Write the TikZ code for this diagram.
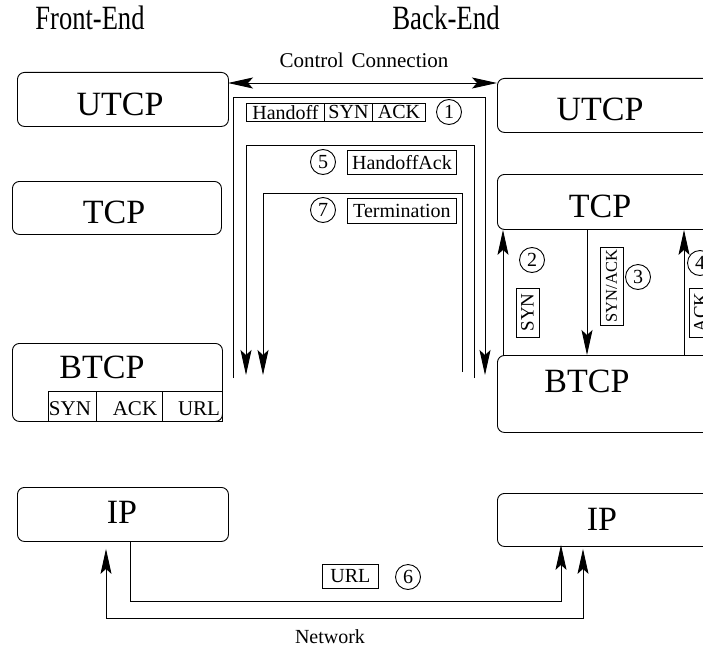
\documentclass[tikz,border=0pt]{standalone}
\usepackage{fontspec}
\setmainfont{Liberation Serif}
\usetikzlibrary{arrows.meta}
\begin{document}
\begin{tikzpicture}[x=1pt,y=-1pt,line width=0.9pt,
  layer/.style={draw, rounded corners=7pt, inner sep=0pt, anchor=north west},
  big/.style={font=\fontsize{34}{34}\selectfont, anchor=base, inner sep=0pt},
  title/.style={font=\fontsize{34}{34}\selectfont, anchor=base, inner sep=0pt},
  small/.style={font=\fontsize{20}{20}\selectfont, anchor=base, inner sep=0pt},
  cell/.style={draw, inner sep=0pt, anchor=north west, font=\fontsize{20}{20}\selectfont},
  msgbox/.style={draw, inner sep=0pt, font=\fontsize{20}{20}\selectfont},
  vbox/.style={draw, inner sep=0pt, rotate=90, minimum width=49pt, minimum height=23pt, font=\fontsize{19}{19}\selectfont},
  num/.style={draw, circle, inner sep=0pt, minimum size=25pt, font=\fontsize{20}{20}\selectfont},
  arr/.style={-{Stealth[length=25pt,width=11pt,inset=5pt]}},
  dblarr/.style={{Stealth[length=25pt,width=11pt,inset=5pt]}-{Stealth[length=25pt,width=11pt,inset=5pt]}}
]
\useasboundingbox (0,0) rectangle (703,650);
\clip (0,0) rectangle (703,650);

% column headings
\node[title] (fe) at (90,30) {\scalebox{0.78}[1]{Front-End}};
\node[title] (be) at (446,30) {\scalebox{0.79}[1]{Back-End}};

% front-end protocol layers
\node[layer, minimum width=211pt, minimum height=54pt] (lU) at (17,72) {};
\node[layer, minimum width=209pt, minimum height=53pt] (lT) at (12,181) {};
\node[layer, minimum width=210pt, minimum height=78pt] (lB) at (12,343) {};
\node[layer, minimum width=211pt, minimum height=54pt] (lI) at (17,487) {};
\node[big] (lUt) at (120,115) {UTCP};
\node[big] (lTt) at (114,223) {TCP};
\node[big] (lBt) at (102,378) {BTCP};
\node[big] (lIt) at (122,523) {IP};

% buffered packets inside the front-end BTCP
\node[cell, minimum width=48pt, minimum height=30pt] (q1) at (48,391) {};
\node[cell, minimum width=66pt, minimum height=30pt] (q2) at (96,391) {};
\node[cell, minimum width=60pt, minimum height=30pt] (q3) at (162,391) {};
\node[small, font=\fontsize{21}{21}\selectfont] (q1t) at (70,415) {SYN};
\node[small, font=\fontsize{21}{21}\selectfont] (q2t) at (135,415) {ACK};
\node[small, font=\fontsize{21}{21}\selectfont] (q3t) at (199,415) {URL};

% back-end protocol layers
\node[layer, minimum width=220pt, minimum height=54pt] (rU) at (497,78) {};
\node[layer, minimum width=220pt, minimum height=55pt] (rT) at (497,174) {};
\node[layer, minimum width=220pt, minimum height=77pt] (rB) at (497,355) {};
\node[layer, minimum width=220pt, minimum height=53pt] (rI) at (497,493) {};
\node[big] (rUt) at (600,121) {UTCP};
\node[big] (rTt) at (600,217) {TCP};
\node[big] (rBt) at (587,392) {BTCP};
\node[big] (rIt) at (602,530) {IP};

% control connection between the UTCP layers
\coordinate (ccl) at (228,83);
\coordinate (ccr) at (497,83);
\draw[dblarr] (ccl) -- (ccr);
\node[small, font=\fontsize{21}{21}\selectfont] (cct) at (364,68) {Control\hspace{8pt}Connection};

% message 1: handoff request
\coordinate (m1s) at (233,378);
\coordinate (m1a) at (233,97);
\coordinate (m1b) at (485,97);
\coordinate (m1e) at (485,375);
\draw[arr] (m1s) -- (m1a) -- (m1b) -- (m1e);
\node[cell, minimum width=78pt, minimum height=18pt] (h1) at (246,103) {Handoff};
\node[cell, minimum width=48pt, minimum height=18pt] (h2) at (324,103) {SYN};
\node[cell, minimum width=53pt, minimum height=18pt] (h3) at (372,103) {ACK};
\node[num] (n1) at (449,112) {1};

% message 5: handoff acknowledgement
\coordinate (m5s) at (474,378);
\coordinate (m5a) at (474,145);
\coordinate (m5b) at (246,145);
\coordinate (m5e) at (246,375);
\draw[arr] (m5s) -- (m5a) -- (m5b) -- (m5e);
\node[msgbox, minimum width=109pt, minimum height=24pt, anchor=north west] (hack) at (347,150) {HandoffAck};
\node[num] (n5) at (323,162) {5};

% message 7: termination
\coordinate (m7s) at (462,372);
\coordinate (m7a) at (462,193);
\coordinate (m7b) at (263,193);
\coordinate (m7e) at (263,375);
\draw[arr] (m7s) -- (m7a) -- (m7b) -- (m7e);
\node[msgbox, minimum width=109pt, minimum height=25pt, anchor=north west] (term) at (347,198) {Termination};
\node[num] (n7) at (323,210) {7};

% back-end handshake between BTCP and TCP
\coordinate (x2) at (503,0);
\coordinate (x3) at (587,0);
\coordinate (x4) at (684,0);
\draw[arr] (rB.north -| x2) -- (rT.south -| x2);
\draw[arr] (rT.south -| x3) -- (rB.north -| x3);
\draw[arr] (rB.north -| x4) -- (rT.south -| x4);
\node[num] (n2) at (532,260) {2};
\node[vbox] (s2) at (527.5,312.5) {SYN};
\node[num] (n3) at (638,277) {3};
\node[vbox, minimum width=78pt, font=\fontsize{16.5}{16.5}\selectfont] (s3) at (611.5,286) {SYN/ACK};
\node[num] (n4) at (700,263) {4};
\node[vbox] (s4) at (700.5,312.5) {ACK};

% message 6: URL forwarded over the network
\coordinate (u1) at (130,601);
\coordinate (u2) at (561,601);
\draw[arr, shorten >=-2pt] (lI.south -| u1) -- (u1) -- (u2) -- (rI.south -| u2);
\node[msgbox, minimum width=56pt, minimum height=24pt, anchor=north west] (urlb) at (322,564) {URL};
\node[num] (n6) at (408,577) {6};

% the network link between both hosts
\coordinate (w1) at (106,618);
\coordinate (w2) at (583,618);
\draw[dblarr, shorten <=7pt, shorten >=2pt] (lI.south -| w1) -- (w1) -- (w2) -- (rI.south -| w2);
\node[small] (net) at (330,643) {Network};
\end{tikzpicture}
\end{document}
